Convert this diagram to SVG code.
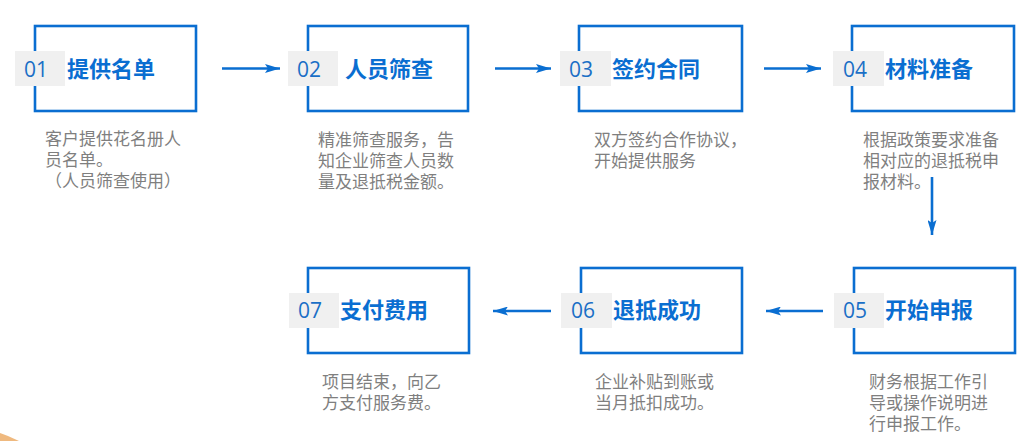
<svg xmlns="http://www.w3.org/2000/svg" width="1033" height="441" viewBox="0 0 1033 441">
<defs>
<marker id="ah" viewBox="0 0 15 9" refX="15" refY="4.5" markerWidth="15" markerHeight="9" markerUnits="userSpaceOnUse" orient="auto">
<path d="M0,0 L15,4.5 L0,9 L3,4.5 z" fill="#0a6ed1"/>
</marker>
<style>
.box{fill:#fff;stroke:#0a6ed1;stroke-width:2.6}
.badge{fill:#f0f0f0}
.num{font-family:"Open Sans","Noto Sans",sans-serif;font-size:21px;fill:#1a6fc6}
.title{font-family:"Noto Sans CJK SC",sans-serif;font-size:22px;font-weight:bold;fill:#0a6ed1}
.desc{font-family:"Noto Sans CJK SC",sans-serif;font-size:17px;fill:#7f7f7f}
.conn{stroke:#0a6ed1;stroke-width:2.6;fill:none;marker-end:url(#ah)}
</style>
</defs>
<rect width="1033" height="441" fill="#fff"/>
<polygon points="0,433 8,436 19,441 0,441" fill="#efb97f"/>
<g id="connectors">
<line class="conn" x1="222" y1="68.5" x2="280" y2="68.5"/>
<line class="conn" x1="495" y1="68.5" x2="551" y2="68.5"/>
<line class="conn" x1="764" y1="68.5" x2="821" y2="68.5"/>
<line class="conn" x1="932" y1="177" x2="932" y2="235"/>
<line class="conn" x1="823" y1="311" x2="766" y2="311"/>
<line class="conn" x1="551" y1="311" x2="493" y2="311"/>
</g>
<g id="n1">
<rect class="box" x="35" y="26" width="161" height="85"/>
<rect class="badge" x="15" y="51" width="50" height="35"/>
<text class="num" x="24" y="77">01</text>
<text class="title" x="67" y="77">提供名单</text>
<text class="desc"><tspan x="45" y="145">客户提供花名册人</tspan><tspan x="45" y="166">员名单。</tspan><tspan x="45" y="187">（人员筛查使用）</tspan></text>
</g>
<g id="n2">
<rect class="box" x="308" y="26" width="160" height="85"/>
<rect class="badge" x="288" y="51" width="50" height="35"/>
<text class="num" x="297" y="77">02</text>
<text class="title" x="345" y="77">人员筛查</text>
<text class="desc"><tspan x="318" y="146">精准筛查服务，告</tspan><tspan x="318" y="167">知企业筛查人员数</tspan><tspan x="318" y="188">量及退抵税金额。</tspan></text>
</g>
<g id="n3">
<rect class="box" x="579" y="26" width="163" height="85"/>
<rect class="badge" x="560" y="51" width="51" height="35"/>
<text class="num" x="569" y="77">03</text>
<text class="title" x="612" y="77">签约合同</text>
<text class="desc"><tspan x="594" y="146">双方签约合作协议，</tspan><tspan x="594" y="167">开始提供服务</tspan></text>
</g>
<g id="n4">
<rect class="box" x="852" y="26" width="162" height="85"/>
<rect class="badge" x="833" y="51" width="51" height="35"/>
<text class="num" x="843" y="77">04</text>
<text class="title" x="885" y="77">材料准备</text>
<text class="desc"><tspan x="863" y="146">根据政策要求准备</tspan><tspan x="863" y="167">相对应的退抵税申</tspan><tspan x="863" y="188">报材料。</tspan></text>
</g>
<g id="n5">
<rect class="box" x="854" y="268" width="161" height="85"/>
<rect class="badge" x="834" y="293" width="50" height="35"/>
<text class="num" x="843" y="318">05</text>
<text class="title" x="885" y="318">开始申报</text>
<text class="desc"><tspan x="869" y="388">财务根据工作引</tspan><tspan x="869" y="409">导或操作说明进</tspan><tspan x="869" y="430">行申报工作。</tspan></text>
</g>
<g id="n6">
<rect class="box" x="581" y="268" width="161" height="85"/>
<rect class="badge" x="561" y="293" width="51" height="35"/>
<text class="num" x="571" y="318">06</text>
<text class="title" x="613" y="318">退抵成功</text>
<text class="desc"><tspan x="595" y="388">企业补贴到账或</tspan><tspan x="595" y="409">当月抵扣成功。</tspan></text>
</g>
<g id="n7">
<rect class="box" x="308" y="268" width="161" height="85"/>
<rect class="badge" x="289" y="293" width="50" height="35"/>
<text class="num" x="298" y="318">07</text>
<text class="title" x="340" y="318">支付费用</text>
<text class="desc"><tspan x="322" y="388">项目结束，向乙</tspan><tspan x="322" y="409">方支付服务费。</tspan></text>
</g>
</svg>
